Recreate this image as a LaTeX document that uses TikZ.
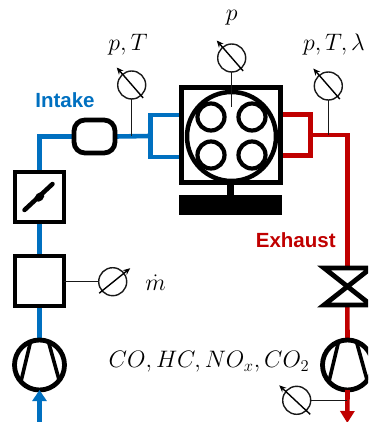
\documentclass[tikz,border=0pt]{standalone}
\usepackage{amsmath, amssymb}
\usepackage{xcolor}
\usepackage{fontspec}
\setsansfont{Liberation Sans}
\usetikzlibrary{
  shapes.geometric,
  arrows.meta,
  positioning,
  calc
}
\pgfdeclarelayer{background}
\pgfsetlayers{background,main}
\definecolor{intakeblue}{RGB}{0, 112, 192}
\definecolor{exhaustred}{RGB}{192, 0, 0}
\tikzset{
  part/.style = {
    rectangle, draw=black, line width=4.8pt,
    inner sep=0pt, outer sep=0pt, minimum width=49pt, minimum height=50pt
  },
  turbo/.style = {
    circle, draw=black, line width=4.8pt,
    inner sep=0pt, outer sep=0pt, minimum size=50pt
  },
  valve/.style = {
    circle, draw=black, line width=4.2pt,
    inner sep=0pt, outer sep=0pt, minimum size=27pt
  },
  gauge/.style = {
    circle, draw=black!90, line width=1.4pt,
    inner sep=0pt, outer sep=0pt, minimum size=28pt
  },
  blade/.style = {draw=black, line width=3.6pt},
  signal/.style = {draw=black!90, line width=1.4pt},
  needle/.style = {-{Stealth[length=7pt,width=6pt]}, draw=black, line width=1.4pt},
  airpipe/.style = {draw=intakeblue, line width=4.6pt},
  gaspipe/.style = {draw=exhaustred, line width=4.6pt},
  lbl/.style = {font=\sffamily\bfseries\fontsize{20.5}{22}\selectfont},
  qty/.style = {inner sep=0pt, scale=1.38, font=\LARGE},
}

\begin{document}
\begin{tikzpicture}[x=1pt, y=1pt]
  \useasboundingbox (0,-422) rectangle (368,0);
  \clip (0,-422) rectangle (368,0);

  %% ── Engine ─────────────────────────────────────────────────────────────
  \node[part, minimum width=99pt, minimum height=95.5pt] (engine) at (231,-135) {};
  \node[circle, draw=black, line width=4.5pt, inner sep=0pt, outer sep=0pt,
        minimum size=89pt] (cylinder) at (231.5,-136.5) {};
  \node[valve] (valveA) at (211,-117) {};
  \node[valve] (valveB) at (252,-117) {};
  \node[valve] (valveC) at (211,-155) {};
  \node[valve] (valveD) at (252,-155) {};
  \node[rectangle, fill=black, inner sep=0pt, outer sep=0pt,
        minimum width=103pt, minimum height=20pt] (brake) at (230.5,-204.5) {};
  \draw[draw=black, line width=6.5pt] (engine.south -| brake.north) -- (brake.north);

  %% ── Intake column ──────────────────────────────────────────────────────
  \node[part, rounded corners=11pt, minimum width=41pt,
        minimum height=33pt] (silencer) at (94.5,-136.5) {};
  \node[part] (throttle) at (39.5,-197) {};
  \node[part, below=34pt of throttle] (mfm) {};
  \node[turbo, below=34pt of mfm] (compressor) {};

  \draw[draw=black, line width=4.5pt, line cap=round]
    ($(throttle.center)+(-15,-13)$) -- ($(throttle.center)+(13,13)$);
  \node[ellipse, fill=black, rotate=43, inner sep=0pt, minimum width=11pt,
        minimum height=8pt] (flap) at (throttle.center) {};

  \draw[blade] (compressor.111) -- (compressor.222);
  \draw[blade] (compressor.69) -- (compressor.-38);

  %% ── Exhaust column ─────────────────────────────────────────────────────
  \coordinate (bowNW) at (324,-268);
  \coordinate (bowNE) at (371,-268);
  \coordinate (bowSW) at (324,-305);
  \coordinate (bowSE) at (371,-305);
  \draw[draw=black, line width=4.8pt, line join=miter]
    (bowNW) -- (bowNE) -- (bowSW) -- (bowSE) -- cycle;
  \node[turbo] (turbine) at (347.5,-365) {};
  \draw[blade] (turbine.111) -- (turbine.222);
  \draw[blade] (turbine.69) -- (turbine.-38);

  %% ── Gauges ─────────────────────────────────────────────────────────────
  \node[gauge] (gIntake) at (131.7,-85) {};
  \node[gauge] (gCyl) at (231.7,-58) {};
  \node[gauge] (gExhaust) at (328.3,-86) {};
  \node[gauge] (gAir) at (112.7,-281.7) {};
  \node[gauge] (gEmis) at (296.7,-400.3) {};

  \draw[needle] ($(gIntake)+(11.5,-13)$) -- ($(gIntake)+(-15,17.5)$);
  \draw[needle] ($(gCyl)+(11.5,-13)$) -- ($(gCyl)+(-15,17.5)$);
  \draw[needle] ($(gExhaust)+(11.5,-13)$) -- ($(gExhaust)+(-15,17.5)$);
  \draw[needle] ($(gAir)+(-13.5,-11.5)$) -- ($(gAir)+(17.5,13.5)$);
  \draw[needle] ($(gEmis)+(13.5,-14)$) -- ($(gEmis)+(-17.5,15)$);

  \node[qty] (tIntake) at (128,-45) {$p,T$};
  \node[qty] (tCyl) at (231.7,-18) {$p$};
  \node[qty] (tExhaust) at (334,-45) {$p,T,\lambda$};
  \node[qty] (tAir) at (155.7,-282.7) {$\dot{m}$};
  \node[qty] (tEmis) at (209,-362) {$CO,HC,NO_x,CO_2$};

  \node[lbl, text=intakeblue] (lIntake) at (65,-100) {Intake};
  \node[lbl, text=exhaustred] (lExhaust) at (295.7,-240) {Exhaust};

  %% ── Pipes ──────────────────────────────────────────────────────────────
  \coordinate (inFork) at (150.7,-136);
  \coordinate (outFork) at (310.7,-135);
  \coordinate (inTop) at (39.5,-136.5);
  \coordinate (outTop) at (347.3,-135);
  \coordinate (inStart) at (39.5,-424);
  \coordinate (outEnd) at (347.3,-423);
  \coordinate (emisTap) at (347.3,-400.3);

  \begin{pgfonlayer}{background}
    \draw[airpipe] (throttle.north) -- (inTop) -- (silencer.west);
    \draw[airpipe] (silencer.east) -- (inFork);
    \draw[airpipe] (engine.west |- 0,-115) -- (inFork |- 0,-115)
      -- (inFork |- 0,-157) -- (engine.west |- 0,-157);
    \draw[airpipe] (throttle.south) -- (mfm.north);
    \draw[airpipe] (mfm.south) -- (compressor.north);
    \draw[gaspipe] (engine.east |- 0,-114.5) -- (outFork |- 0,-114.5)
      -- (outFork |- 0,-155.5) -- (engine.east |- 0,-155.5);
    \draw[gaspipe] (outFork) -- (outTop) -- (outTop |- bowNW);
    \draw[gaspipe] (outTop |- bowSW) -- (turbine.north);
  \end{pgfonlayer}

  \draw[airpipe, -{Triangle[length=11pt,width=14pt]}] (inStart) -- (compressor.south);
  \draw[gaspipe, -{Triangle[length=12pt,width=14pt]}] (turbine.south) -- (outEnd);

  %% ── Sensor lines ───────────────────────────────────────────────────────
  \coordinate (cylProbe) at (231.7,-107);
  \draw[signal] (gIntake) -- (gIntake |- inFork);
  \draw[signal] (gCyl) -- (cylProbe);
  \draw[signal] (gExhaust) -- (gExhaust |- outFork);
  \draw[signal] (mfm.east |- gAir) -- (gAir);
  \draw[signal] (gEmis) -- (emisTap);

\end{tikzpicture}
\end{document}
